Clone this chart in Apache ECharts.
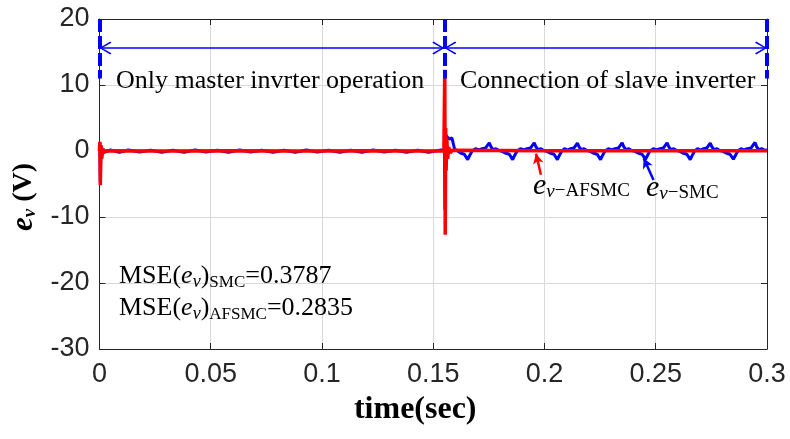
<!DOCTYPE html>
<html>
<head>
<meta charset="utf-8">
<script src="https://cdn.jsdelivr.net/npm/echarts@6/dist/echarts.min.js"></script>
<style>
html,body{margin:0;padding:0;background:#fff;}
#chart{width:790px;height:439px;}
</style>
</head>
<body>
<div id="chart"></div>
<script>
// ---- data ----
const xTicks = [0, 0.05, 0.1, 0.15, 0.2, 0.25, 0.3];
const yTicks = [-30, -20, -10, 0, 10, 20];
const switchTime = 0.155;

// e_v with SMC (blue)
const smcTime = [
  0, 0.0002, 0.0004, 0.0007, 0.001, 0.0015, 0.002, 0.005, 0.009, 0.013, 0.018, 0.023, 0.028, 0.033,
  0.038, 0.043, 0.048, 0.053, 0.058, 0.063, 0.068, 0.073, 0.078, 0.083, 0.088, 0.093, 0.098, 0.103,
  0.108, 0.113, 0.118, 0.123, 0.128, 0.133, 0.138, 0.143, 0.148, 0.1535, 0.1548, 0.1551, 0.1553,
  0.1555, 0.1557, 0.1572, 0.1584, 0.1596, 0.1610, 0.1625, 0.1640,
  0.1655, 0.1665, 0.1675, 0.1690, 0.1705, 0.1720, 0.1735,
  0.1752, 0.1760, 0.1770, 0.1782, 0.1797, 0.1812, 0.1827, 0.1842,
  0.1857, 0.1867, 0.1877, 0.1892, 0.1907, 0.1922, 0.1937,
  0.1954, 0.1962, 0.1972, 0.1984, 0.1999, 0.2014, 0.2028, 0.2043,
  0.2058, 0.2068, 0.2078, 0.2090, 0.2103, 0.2117, 0.2132,
  0.2148, 0.2156, 0.2166, 0.2178, 0.2193, 0.2208, 0.2222, 0.2237,
  0.2252, 0.2262, 0.2272, 0.2287, 0.2302, 0.2317, 0.2332,
  0.2349, 0.2357, 0.2367, 0.2379, 0.2394, 0.2409, 0.2424, 0.2439,
  0.2454, 0.2464, 0.2474, 0.2489, 0.2504, 0.2519, 0.2534,
  0.2551, 0.2559, 0.2569, 0.2581, 0.2596, 0.2611, 0.2625, 0.2640,
  0.2655, 0.2665, 0.2675, 0.2688, 0.2701, 0.2715, 0.2729,
  0.2745, 0.2753, 0.2763, 0.2775, 0.2790, 0.2805, 0.2819, 0.2834,
  0.2849, 0.2859, 0.2869, 0.2883, 0.2897, 0.2912, 0.2928,
  0.2946, 0.2954, 0.2964, 0.2976, 0.2990, 0.3000
];
const smcValue = [
  0, 1.3, -4.8, 0.8, -1.0, 0.4, -0.2, 0.15, -0.2, 0.15, -0.15, 0.1, -0.2, 0.1,
  -0.2, 0.15, -0.15, 0.1, -0.2, 0.15, -0.15, 0.1, -0.2, 0.1, -0.2, 0.15, -0.15, 0.1,
  -0.2, 0.1, -0.2, 0.15, -0.15, 0.1, -0.2, 0.1, -0.2, 0.15, 0.1, -0.5, -8.9,
  1.0, 2.4, 1.8, 2.0, 0.3, 0.0, -0.35, -0.5,
  -1.3, -0.6, 0.0, 0.35, 0.15, 0.35, 0.45,
  1.25, 0.6, 0.2, 0.35, 0.05, -0.1, -0.35, -0.5,
  -1.3, -0.6, 0.0, 0.35, 0.15, 0.35, 0.45,
  1.25, 0.6, 0.2, 0.35, 0.05, -0.1, -0.35, -0.5,
  -1.3, -0.6, 0.0, 0.35, 0.15, 0.35, 0.45,
  1.2, 0.6, 0.2, 0.35, 0.05, -0.1, -0.35, -0.5,
  -1.3, -0.6, 0.0, 0.35, 0.15, 0.35, 0.45,
  1.25, 0.6, 0.2, 0.35, 0.05, -0.1, -0.35, -0.5,
  -1.25, -0.6, 0.0, 0.35, 0.15, 0.35, 0.45,
  1.25, 0.6, 0.2, 0.35, 0.05, -0.1, -0.35, -0.5,
  -1.3, -0.6, 0.0, 0.35, 0.15, 0.35, 0.45,
  1.2, 0.6, 0.2, 0.35, 0.05, -0.1, -0.35, -0.5,
  -1.25, -0.6, 0.0, 0.35, 0.15, 0.35, 0.45,
  1.3, 0.6, 0.2, 0.35, 0.1, 0.15
];

// e_v with AFSMC (red)
const afsmcTime = [
  0, 0.0002, 0.0004, 0.0007, 0.001, 0.0014, 0.002, 0.003, 0.03, 0.06, 0.09, 0.12, 0.1548,
  0.1550, 0.1552, 0.1554, 0.1556, 0.1558, 0.1561, 0.1565, 0.1570, 0.1576, 0.1585, 0.20, 0.25, 0.3
];
const afsmcValue = [
  0, 1.4, -5.2, 0.9, -1.2, 0.4, -0.2, 0.05, 0.0, 0.05, 0.0, 0.05, 0.0,
  0.3, 12.3, -12.7, 3.5, -3.0, 2.0, -1.2, 0.6, -0.3, 0.1, 0.05, 0.05, 0.05
];

const smcData = smcTime.map((t, i) => [t, smcValue[i]]);
const afsmcData = afsmcTime.map((t, i) => [t, afsmcValue[i]]);

// ---- styles ----
const serif = '"Liberation Serif","Times New Roman",serif';
const sans = '"Liberation Sans",Arial,sans-serif';
const axisColor = '#262626';
const gridColor = '#d9d9d9';
const blue = '#0000ff';
const red = '#ff0000';
const chevron = 'path://M5,0 L10,9 L9,10 L5,2.2 L1,10 L0,9 Z';

const chart = echarts.init(document.getElementById('chart'), null, {renderer: 'canvas'});

const baseX = {
  type: 'value', min: xTicks[0], max: xTicks[xTicks.length - 1], interval: 0.05,
  axisLine: {show: true, onZero: false, lineStyle: {color: axisColor, width: 1}},
  axisTick: {show: true, inside: true, length: 6, lineStyle: {color: axisColor}},
};
const baseY = {
  type: 'value', min: yTicks[0], max: yTicks[yTicks.length - 1], interval: 10,
  axisLine: {show: true, onZero: false, lineStyle: {color: axisColor, width: 1}},
  axisTick: {show: true, inside: true, length: 6, lineStyle: {color: axisColor}},
};

const subRich = {
  a: {fontFamily: serif, fontSize: 26, color: '#000', lineHeight: 30},
  i: {fontFamily: serif, fontSize: 26, fontStyle: 'italic', color: '#000', lineHeight: 30},
  iv: {fontFamily: serif, fontSize: 18, fontStyle: 'italic', color: '#000', lineHeight: 22, verticalAlign: 'bottom'},
  s: {fontFamily: serif, fontSize: 17, color: '#000', lineHeight: 17, verticalAlign: 'bottom'},
  E: {fontFamily: serif, fontSize: 30, fontStyle: 'italic', color: '#000', lineHeight: 30},
  V: {fontFamily: serif, fontSize: 19, fontStyle: 'italic', color: '#000', lineHeight: 10, verticalAlign: 'bottom'},
  S: {fontFamily: serif, fontSize: 19, color: '#000', lineHeight: 10, verticalAlign: 'bottom'}
};

function txt(x, y, text, rich) {
  return {
    type: 'text', left: x, top: y, silent: true, z: 100,
    style: {text: text, rich: rich, fill: '#000', font: '26px ' + serif}
  };
}

const option = {
  animation: false,
  backgroundColor: '#fff',
  grid: {left: 97, right: 23, top: 19, bottom: 90, containLabel: false},
  xAxis: [
    Object.assign({}, baseX, {
      position: 'bottom',
      splitLine: {show: true, lineStyle: {color: gridColor, width: 1}},
      axisLabel: {
        show: true, margin: 12, color: axisColor, fontFamily: sans, fontSize: 27,
        formatter: v => String(+v.toFixed(2))
      },
      name: 'time(sec)', nameLocation: 'middle', nameGap: 45,
      nameTextStyle: {fontFamily: serif, fontWeight: 'bold', fontSize: 32, color: '#000', padding: [0, 36, 0, 0]}
    }),
    Object.assign({}, baseX, {
      position: 'top', splitLine: {show: false}, axisLabel: {show: false}
    })
  ],
  yAxis: [
    Object.assign({}, baseY, {
      position: 'left',
      splitLine: {show: true, lineStyle: {color: gridColor, width: 1}},
      axisLabel: {show: true, margin: 10, color: axisColor, fontFamily: sans, fontSize: 27},
      name: '{e|e}{v|v}{t| (V)}', nameLocation: 'middle', nameGap: 57, nameRotate: 90,
      nameTextStyle: {
        padding: [0, 26, 0, 0],
        rich: {
          e: {fontFamily: serif, fontWeight: 'bold', fontStyle: 'italic', fontSize: 31, color: '#000', lineHeight: 32},
          v: {fontFamily: serif, fontWeight: 'bold', fontStyle: 'italic', fontSize: 19, color: '#000', lineHeight: 16, verticalAlign: 'bottom'},
          t: {fontFamily: serif, fontWeight: 'bold', fontSize: 28, color: '#000', lineHeight: 32}
        }
      }
    }),
    Object.assign({}, baseY, {
      position: 'right', splitLine: {show: false}, axisLabel: {show: false}
    })
  ],
  series: [
    {
      name: 'SMC', type: 'line', data: smcData, showSymbol: false, clip: false,
      lineStyle: {color: blue, width: 3}, itemStyle: {color: blue},
      z: 3, silent: true,
      markLine: {
        silent: true, animation: false, label: {show: false},
        symbol: ['none', 'none'],
        data: [
          [{coord: [xTicks[0], 20], lineStyle: {color: blue, width: 4, type: [13, 4]}}, {coord: [xTicks[0], 11]}],
          [{coord: [switchTime, 20], lineStyle: {color: blue, width: 4, type: [13, 4]}}, {coord: [switchTime, 11]}],
          [{coord: [0.3, 20], lineStyle: {color: blue, width: 4, type: [13, 4]}}, {coord: [0.3, 11]}],
          [{coord: [0, 15.6], symbol: chevron, symbolSize: [13, 12], symbolOffset: [0, 6], lineStyle: {color: blue, width: 1.5, type: 'solid'}},
           {coord: [switchTime, 15.6], symbol: chevron, symbolSize: [13, 12], symbolOffset: [0, 6]}],
          [{coord: [switchTime, 15.6], symbol: chevron, symbolSize: [13, 12], symbolOffset: [0, 6], lineStyle: {color: blue, width: 1.5, type: 'solid'}},
           {coord: [0.3, 15.6], symbol: chevron, symbolSize: [13, 12], symbolOffset: [0, 6]}],
          [{coord: [0.2490, -4.4], symbol: 'none', lineStyle: {color: blue, width: 2.5, type: 'solid'}},
           {coord: [0.2446, -1.1], symbol: 'arrow', symbolSize: [8, 10]}]
        ]
      }
    },
    {
      name: 'AFSMC', type: 'line', data: afsmcData, showSymbol: false, clip: false,
      lineStyle: {color: red, width: 3.5}, itemStyle: {color: red},
      z: 4, silent: true,
      markLine: {
        silent: true, animation: false, label: {show: false},
        symbol: ['none', 'arrow'], symbolSize: [8, 10],
        data: [
          [{coord: [0.1984, -3.6], lineStyle: {color: red, width: 2.5, type: 'solid'}},
           {coord: [0.1962, -0.4]}]
        ]
      }
    }
  ],
  graphic: [
    {type: 'text', left: 116, top: 68, silent: true, z: 100,
     style: {text: 'Only master invrter operation', font: '26px ' + serif, fill: '#000'}},
    {type: 'text', left: 460, top: 68, silent: true, z: 100,
     style: {text: 'Connection of slave inverter', font: '26px ' + serif, fill: '#000'}},
    txt(119, 263, '{a|MSE(}{i|e}{iv|v}{a|)}{s|SMC}{a|=0.3787}', subRich),
    txt(119, 295, '{a|MSE(}{i|e}{iv|v}{a|)}{s|AFSMC}{a|=0.2835}', subRich),
    txt(533, 171, '{E|e}{V|v}{S|\u2212AFSMC}', subRich),
    txt(646, 173, '{E|e}{V|v}{S|\u2212SMC}', subRich)
  ]
};

chart.setOption(option);
</script>
</body>
</html>
